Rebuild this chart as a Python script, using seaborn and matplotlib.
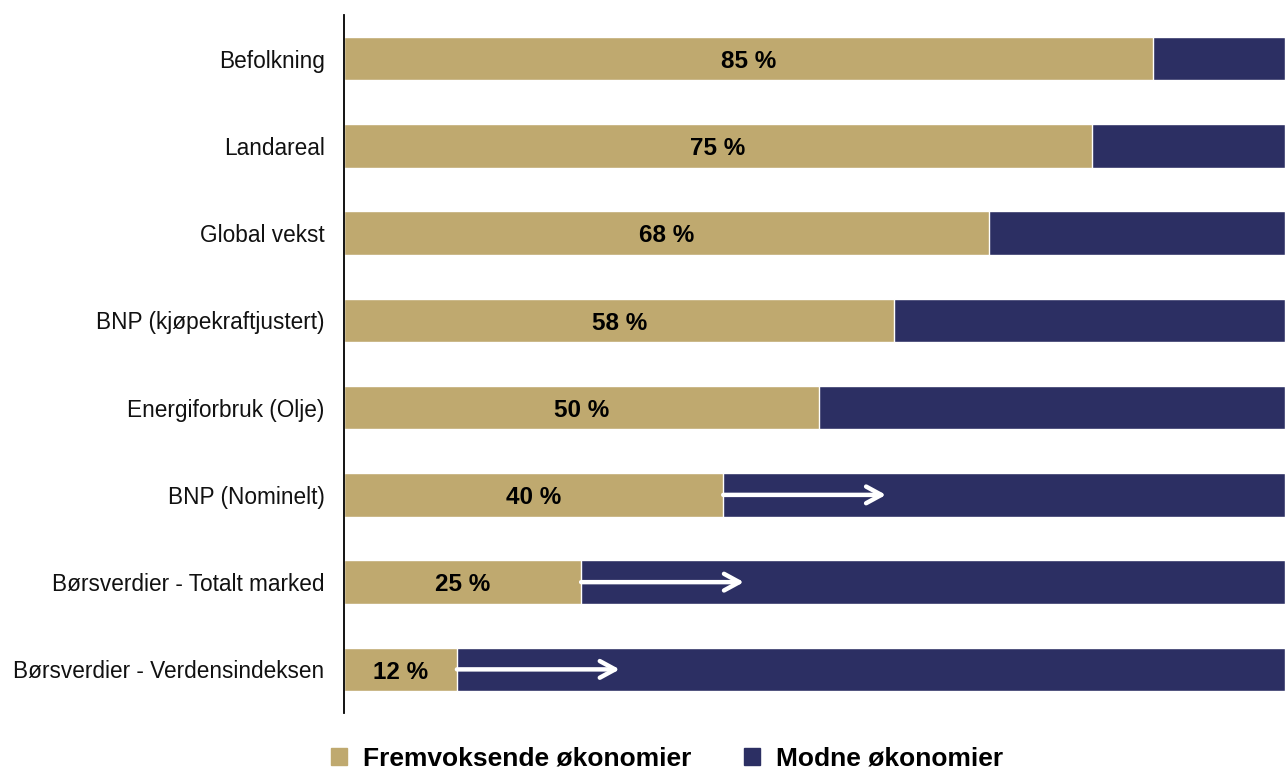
import pandas as pd
import matplotlib.pyplot as plt
import seaborn as sns
from matplotlib.patches import Patch

categories = ["Befolkning", "Landareal", "Global vekst", "BNP (kjøpekraftjustert)",
              "Energiforbruk (Olje)", "BNP (Nominelt)", "Børsverdier - Totalt marked",
              "Børsverdier - Verdensindeksen"]
emerging = [86, 79.5, 68.5, 58.5, 50.5, 40.3, 25.2, 12]
labels = ["85 %", "75 %", "68 %", "58 %", "50 %", "40 %", "25 %", "12 %"]
arrow_rows = ["BNP (Nominelt)", "Børsverdier - Totalt marked", "Børsverdier - Verdensindeksen"]
arrow_len = 17.3

gold = "#BFA96F"
navy = "#2C2F63"

df = pd.DataFrame({"Kategori": categories, "Fremvoksende": emerging})
df["Total"] = 100

sns.set_style("white")
plt.rcParams["font.family"] = ["Liberation Sans", "DejaVu Sans"]

fig = plt.figure(figsize=(12.85, 7.74), dpi=100)
ax = fig.add_axes([0.2677, 0.0788, 0.7323, 0.9018])

sns.barplot(data=df, y="Kategori", x="Total", color=navy, orient="h", width=0.5,
            saturation=1, ax=ax)
sns.barplot(data=df, y="Kategori", x="Fremvoksende", color=gold, orient="h", width=0.5,
            saturation=1, ax=ax)

for i, (cat, val, lab) in enumerate(zip(categories, emerging, labels)):
    ax.text(val / 2, i + 0.03, lab, ha="center", va="center", fontsize=17.5,
            fontweight="bold", color="black")
    if cat in arrow_rows:
        ax.annotate("", xy=(val + arrow_len, i), xytext=(val, i),
                    arrowprops=dict(arrowstyle="->,head_length=1.1,head_width=0.6",
                                    color="white", lw=3.2, shrinkA=0, shrinkB=0,
                                    capstyle="round", joinstyle="round"))

ax.set_xlim(0, 100)
ax.set_ylim(7.5, -0.5)
ax.set_xlabel("")
ax.set_ylabel("")
ax.set_xticks([])
ax.tick_params(axis="y", labelsize=16.3, length=0, pad=14, labelcolor="#111111")
for s in ["top", "right", "bottom"]:
    ax.spines[s].set_visible(False)
ax.spines["left"].set_color("black")
ax.spines["left"].set_linewidth(1.3)

handles = [Patch(color=gold, label="Fremvoksende økonomier"),
           Patch(color=navy, label="Modne økonomier")]
fig.legend(handles=handles, loc="center", bbox_to_anchor=(0.519, 0.02), ncol=2,
           frameon=False, handlelength=0.6, handleheight=0.6, handletextpad=0.6,
           columnspacing=2.0, labelcolor="black", prop={"weight": "bold", "size": 19})

fig.savefig("out.png", dpi=100)
